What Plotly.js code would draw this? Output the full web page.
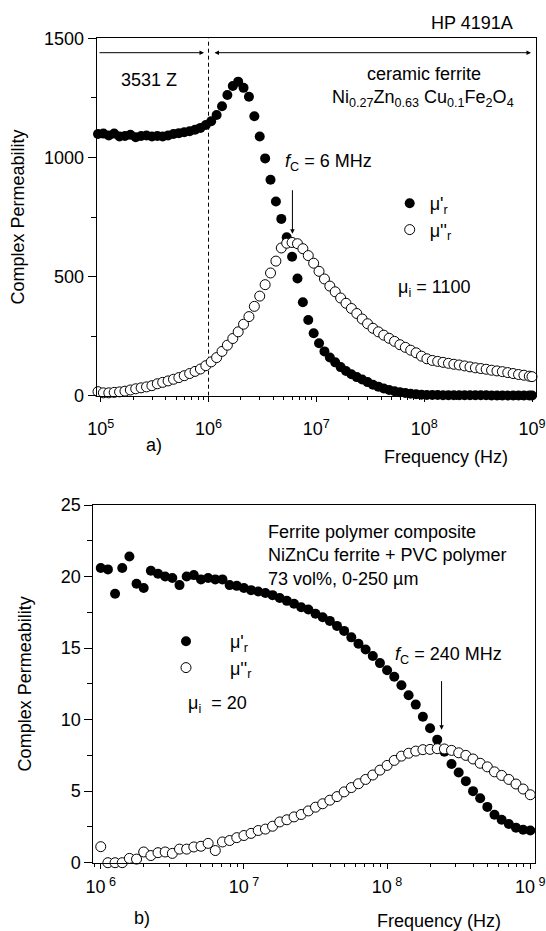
<!DOCTYPE html>
<html><head><meta charset="utf-8">
<script src="https://cdn.plot.ly/plotly-3.0.1.min.js"></script>
<style>html,body{margin:0;padding:0;background:#fff}#chart{width:546px;height:931px}</style>
</head><body><div id="chart"></div>
<script>
// ---------- Panel a) ceramic ferrite ----------
const freqA = [9.441e4,
 1.059e5,1.189e5,1.334e5,1.496e5,1.679e5,1.884e5,2.113e5,2.371e5,2.661e5,2.985e5,3.350e5,3.758e5,4.217e5,4.732e5,5.309e5,5.957e5,6.683e5,7.499e5,8.414e5,9.441e5,
 1.059e6,1.189e6,1.334e6,1.496e6,1.679e6,1.884e6,2.113e6,2.371e6,2.661e6,2.985e6,3.350e6,3.758e6,4.217e6,4.732e6,5.309e6,5.957e6,6.683e6,7.499e6,8.414e6,9.441e6,
 1.059e7,1.189e7,1.334e7,1.496e7,1.679e7,1.884e7,2.113e7,2.371e7,2.661e7,2.985e7,3.350e7,3.758e7,4.217e7,4.732e7,5.309e7,5.957e7,6.683e7,7.499e7,8.414e7,9.441e7,
 1.059e8,1.189e8,1.334e8,1.496e8,1.679e8,1.884e8,2.113e8,2.371e8,2.661e8,2.985e8,3.350e8,3.758e8,4.217e8,4.732e8,5.309e8,5.957e8,6.683e8,7.499e8,8.414e8,9.441e8,
 1.0e9];
const muRealA = [1098,
 1100,1092,1100,1088,1090,1095,1085,1090,1092,1088,1090,1088,1092,1098,1102,1106,1110,1116,1124,1136,
 1152,1178,1215,1262,1300,1318,1292,1255,1173,1088,996,906,815,742,665,583,492,392,318,262,
 220,186,160,140,120,104,90,78,68,57,46,38,30,24,19,15,11,8,6,4,
 3,3,3,2,2,2,2,2,2,2,2,2,1,1,1,1,1,1,1,1,
 1];
const muImagA = [17,
 12,12,14,16,19,24,29,33,37,42,50,56,62,69,76,84,93,102,112,126,
 142,160,186,212,240,268,300,332,375,418,466,515,565,620,640,643,638,617,588,556,
 522,490,460,436,410,388,366,345,322,302,283,268,254,241,228,214,203,191,180,166,
 155,148,144,140,136,132,129,125,121,117,114,111,107,104,101,97,93,89,86,82,
 80];
const tickValsA = [1e5, 1e6, 1e7, 1e8, 1e9];
const tickTextA = ['10<sup>5</sup>', '10<sup>6</sup>', '10<sup>7</sup>', '10<sup>8</sup>', '10<sup>9</sup>'];
const yTicksA = [0, 500, 1000, 1500];
const boundaryFreqA = 1e6;   // 3531 Z | HP 4191A
const fcA = 6e6;

// ---------- Panel b) ferrite polymer composite ----------
const freqB = [
 1.000e6,1.122e6,1.259e6,1.413e6,1.585e6,1.778e6,1.995e6,2.239e6,2.512e6,2.818e6,3.162e6,3.548e6,3.981e6,4.467e6,5.012e6,5.623e6,6.310e6,7.079e6,7.943e6,8.913e6,
 1.000e7,1.122e7,1.259e7,1.413e7,1.585e7,1.778e7,1.995e7,2.239e7,2.512e7,2.818e7,3.162e7,3.548e7,3.981e7,4.467e7,5.012e7,5.623e7,6.310e7,7.079e7,7.943e7,8.913e7,
 1.000e8,1.122e8,1.259e8,1.413e8,1.585e8,1.778e8,1.995e8,2.239e8,2.512e8,2.818e8,3.162e8,3.548e8,3.981e8,4.467e8,5.012e8,5.623e8,6.310e8,7.079e8,7.943e8,8.913e8,
 1.000e9];
const muRealB = [
 20.6,20.5,18.8,20.6,21.4,19.5,19.2,20.4,20.2,20.0,19.9,19.4,20.0,20.1,19.8,19.9,19.8,19.8,19.4,19.35,
 19.2,19.05,18.95,18.85,18.7,18.5,18.3,18.1,17.85,17.7,17.4,17.15,16.9,16.55,16.2,15.75,15.3,14.9,14.45,13.95,
 13.45,13.0,12.4,11.7,11.05,10.2,9.4,8.6,7.75,6.9,6.3,5.7,5.0,4.5,3.9,3.35,3.0,2.7,2.45,2.3,
 2.25];
const muImagB = [
 1.12,0.0,0.0,0.0,0.3,0.25,0.75,0.5,0.7,0.75,0.65,0.95,0.95,1.1,1.15,1.35,0.85,1.45,1.55,1.75,
 1.9,2.05,2.25,2.35,2.55,2.85,3.0,3.2,3.37,3.62,3.88,4.12,4.37,4.62,4.95,5.25,5.52,5.82,6.13,6.47,
 6.8,7.15,7.45,7.65,7.8,7.9,7.92,7.97,7.95,7.85,7.68,7.5,7.25,6.95,6.7,6.35,6.1,5.82,5.5,5.15,
 4.75];
const tickValsB = [1e6, 1e7, 1e8, 1e9];
const tickTextB = ['10<sup> 6</sup>', '10<sup> 7</sup>', '10<sup> 8</sup>', '10<sup> 9</sup>'];
const yTicksB = [0, 5, 10, 15, 20, 25];
const fcB = 2.4e8;

// ---------- helpers ----------
const W = 546, H = 931;
const px = v => v / W;
const py = v => 1 - v / H;
const FF = '"Liberation Sans", Arial, Helvetica, sans-serif';
const FONT = {family: FF, size: 18, color: '#000'};

const filled = {symbol: 'circle', size: 10, color: '#000', line: {width: 0}};
const open = {symbol: 'circle', size: 10, color: '#fff', line: {color: '#000', width: 1}};

const traces = [
  {x: [boundaryFreqA, boundaryFreqA], y: [0, 1500], type: 'scatter', mode: 'lines',
   line: {color: '#000', width: 1, dash: '4px,3px'}, showlegend: false, hoverinfo: 'skip', xaxis: 'x', yaxis: 'y'},
  {x: freqA, y: muRealA, type: 'scatter', mode: 'markers', name: "μ'<sub>r</sub>", marker: filled,
   xaxis: 'x', yaxis: 'y', legend: 'legend', cliponaxis: false},
  {x: freqA, y: muImagA, type: 'scatter', mode: 'markers', name: "μ''<sub>r</sub>", marker: open,
   xaxis: 'x', yaxis: 'y', legend: 'legend', cliponaxis: false},
  {x: freqB, y: muRealB, type: 'scatter', mode: 'markers', name: "μ'<sub>r</sub>", marker: filled,
   xaxis: 'x2', yaxis: 'y2', legend: 'legend2', cliponaxis: false},
  {x: freqB, y: muImagB, type: 'scatter', mode: 'markers', name: "μ''<sub>r</sub>", marker: open,
   xaxis: 'x2', yaxis: 'y2', legend: 'legend2', cliponaxis: false}
];

const axBase = {
  showline: true, mirror: true, linecolor: '#000', linewidth: 1,
  ticks: 'outside', tickcolor: '#000', tickwidth: 1,
  showgrid: false, zeroline: false, tickfont: FONT, fixedrange: true
};

function note(text, x, y, extra) {
  return Object.assign({text: text, xref: 'paper', yref: 'paper', x: px(x), y: py(y),
    xanchor: 'center', yanchor: 'middle', showarrow: false, font: FONT}, extra || {});
}

const layout = {
  width: W, height: H,
  margin: {l: 0, r: 0, t: 0, b: 0},
  paper_bgcolor: '#fff', plot_bgcolor: '#fff',
  font: FONT,
  showlegend: true,
  xaxis: Object.assign({}, axBase, {
    type: 'log', range: [4.963, 9.037], domain: [px(96.7), px(536)], anchor: 'y',
    tickmode: 'array', tickvals: tickValsA, ticktext: tickTextA, ticklen: 5, ticklabelstandoff: 12,
    minor: {ticks: 'outside', ticklen: 3, tickcolor: '#000', dtick: 'D1', showgrid: false}
  }),
  yaxis: Object.assign({}, axBase, {
    range: [0, 1500], domain: [py(395.7), py(38.3)], anchor: 'x',
    tickmode: 'array', tickvals: yTicksA, ticklen: 8,
    minor: {ticks: 'outside', ticklen: 5, tickcolor: '#000', dtick: 250, showgrid: false},
    title: {text: 'Complex Permeability', font: FONT, standoff: 14}
  }),
  xaxis2: Object.assign({}, axBase, {
    type: 'log', range: [5.948, 9.035], domain: [px(93.3), px(535.3)], anchor: 'y2',
    tickmode: 'array', tickvals: tickValsB, ticktext: tickTextB, ticklen: 5, ticklabelstandoff: 3,
    minor: {ticks: 'outside', ticklen: 3, tickcolor: '#000', dtick: 'D1', showgrid: false}
  }),
  yaxis2: Object.assign({}, axBase, {
    range: [0, 25], domain: [py(862.7), py(505)], anchor: 'x2',
    tickmode: 'array', tickvals: yTicksB, ticklen: 8,
    minor: {ticks: 'outside', ticklen: 5, tickcolor: '#000', dtick: 2.5, showgrid: false},
    title: {text: 'Complex Permeability', font: FONT, standoff: 24}
  }),
  legend: {x: px(389.7), y: py(185), xanchor: 'left', yanchor: 'top', bgcolor: 'rgba(0,0,0,0)',
           borderwidth: 0, font: FONT, itemwidth: 30, tracegroupgap: 0},
  legend2: {x: px(142), y: py(623), xanchor: 'left', yanchor: 'top', bgcolor: 'rgba(0,0,0,0)',
            borderwidth: 0, font: FONT, itemwidth: 78, tracegroupgap: 0},
  annotations: [
    note('HP 4191A', 472, 22.5),
    note('3531 Z', 148.8, 80.3),
    note('ceramic ferrite', 424, 73.5),
    note('Ni<sub>0.27</sub>Zn<sub>0.63</sub> Cu<sub>0.1</sub>Fe<sub>2</sub>O<sub>4</sub>', 423, 98),
    note('<i>f</i><sub>C</sub> = 6 MHz', 328, 162),
    {text: '', xref: 'x', yref: 'y', x: Math.log10(fcA), y: 680, ax: 0, ay: -45, axref: 'pixel', ayref: 'pixel',
     showarrow: true, arrowhead: 2, arrowsize: 0.9, arrowwidth: 1, arrowcolor: '#000'},
    {text: '', xref: 'paper', yref: 'paper', x: px(204), y: py(52.7), ax: -106, ay: 0,
     showarrow: true, arrowhead: 2, arrowsize: 0.9, arrowwidth: 1, arrowcolor: '#000'},
    {text: '', xref: 'paper', yref: 'paper', x: px(531), y: py(52.7), ax: -318, ay: 0,
     showarrow: true, arrowside: 'end+start', arrowhead: 2, startarrowhead: 2, arrowsize: 0.9, startarrowsize: 0.9,
     arrowwidth: 1, arrowcolor: '#000'},
    note('μ<sub>i</sub> = 1100', 434, 288),
    note('a)', 154, 445),
    note('Frequency (Hz)', 446, 457),

    note('Ferrite polymer composite<br>NiZnCu ferrite + PVC polymer<br>73 vol%, 0-250 µm', 266, 555,
         {xanchor: 'left', align: 'left'}),
    note('<i>f</i><sub>C</sub> = 240 MHz', 448, 655),
    {text: '', xref: 'x2', yref: 'y2', x: Math.log10(fcB), y: 9.3, ax: 0, ay: -50, axref: 'pixel', ayref: 'pixel',
     showarrow: true, arrowhead: 2, arrowsize: 0.9, arrowwidth: 1, arrowcolor: '#000'},
    note('μ<sub>i</sub>  = 20', 217.5, 704),
    note('b)', 142, 918),
    note('Frequency (Hz)', 438.5, 921)
  ]
};

Plotly.newPlot('chart', traces, layout, {displayModeBar: false, staticPlot: true});
</script>
</body></html>
